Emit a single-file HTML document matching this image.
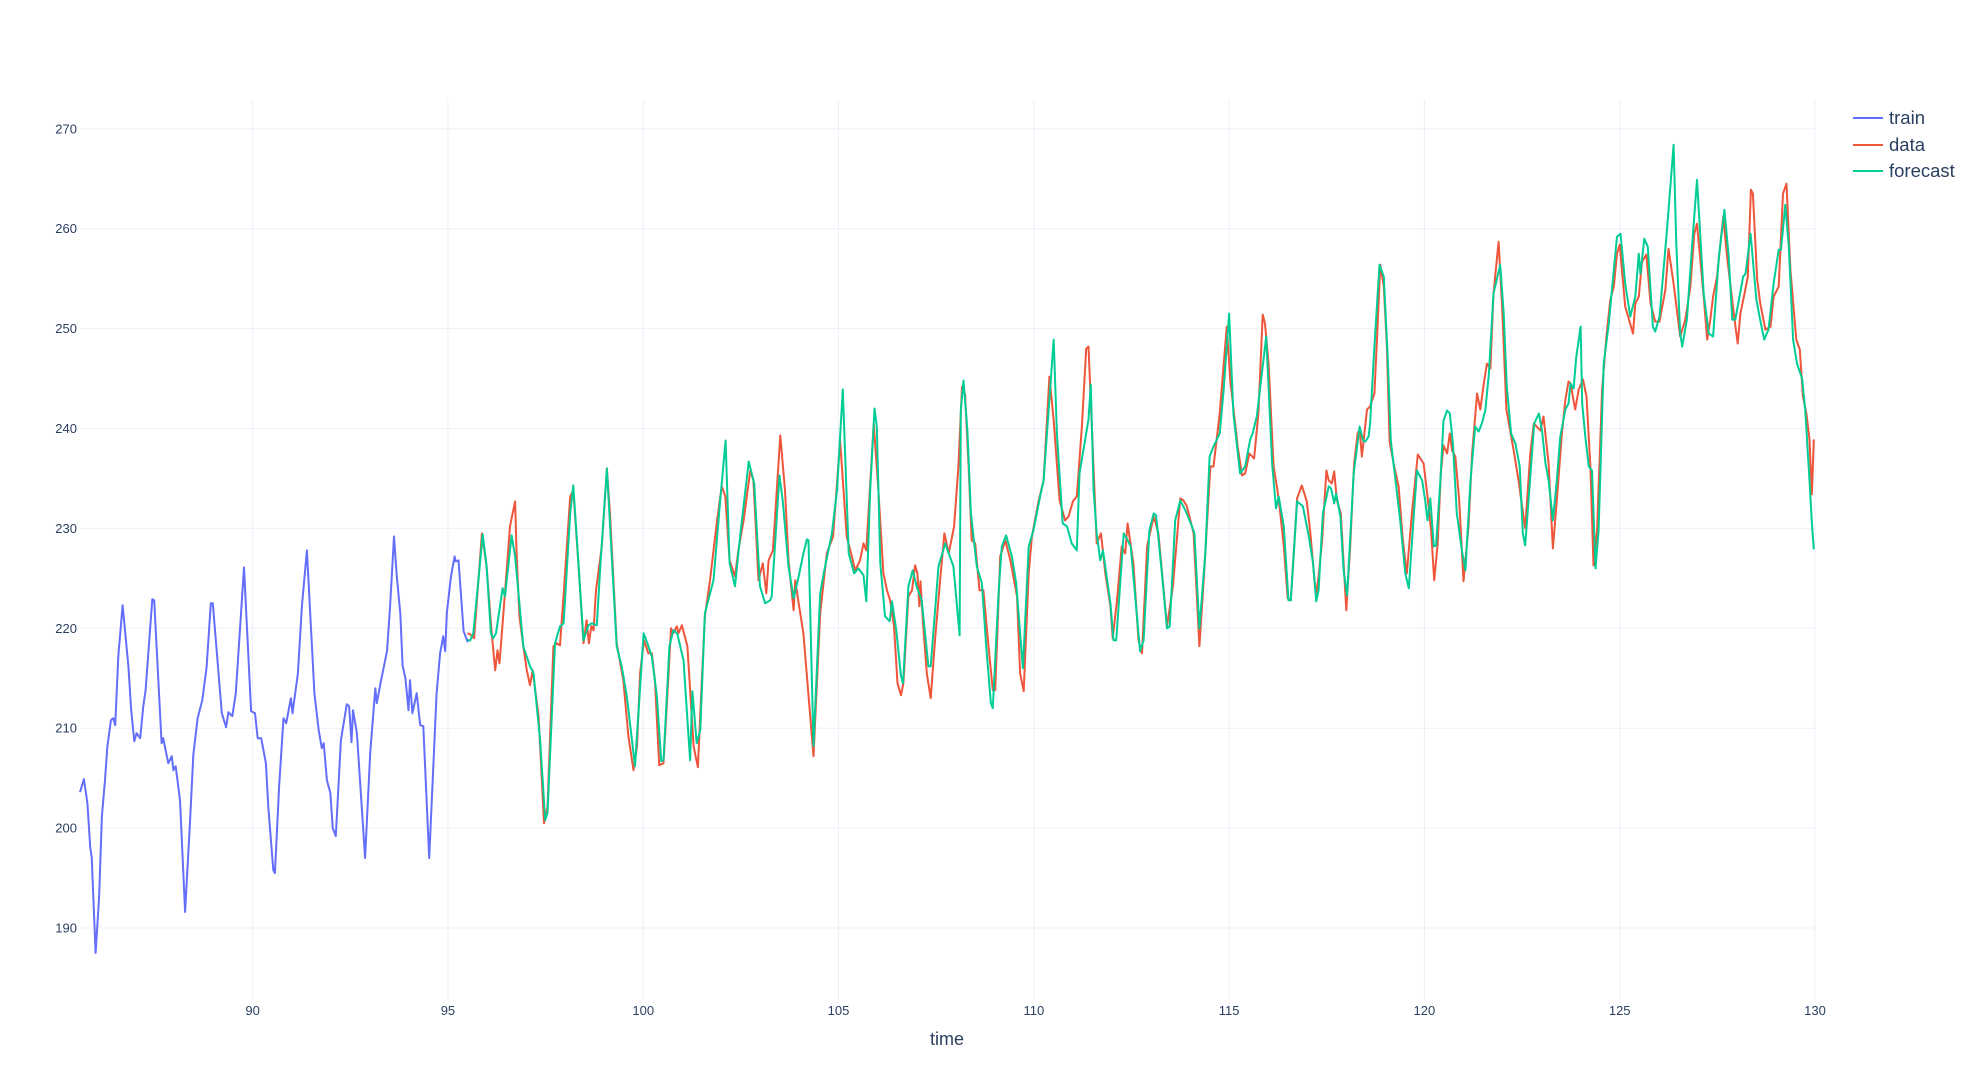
<!DOCTYPE html>
<html><head><meta charset="utf-8"><style>
html,body{margin:0;padding:0;background:#fff;}
svg{display:block;font-family:"Liberation Sans",sans-serif;}
</style></head><body>
<svg id="chart" width="1980" height="1080" viewBox="0 0 1980 1080" xmlns="http://www.w3.org/2000/svg">
<rect x="0" y="0" width="1980" height="1080" fill="#fff"/>
<g id="grid"></g>
<g id="xticks"></g>
<g id="yticks"></g>
<g id="series"></g>
<text x="947" y="1045" font-size="18" fill="#2a3f5f" text-anchor="middle">time</text>
<g>
<g><line x1="1853" y1="118" x2="1883" y2="118" stroke="#636efa" stroke-width="2"/><text x="1889" y="124" font-size="18.5" fill="#2a3f5f">train</text></g>
<g><line x1="1853" y1="145" x2="1883" y2="145" stroke="#EF553B" stroke-width="2"/><text x="1889" y="151" font-size="18.5" fill="#2a3f5f">data</text></g>
<g><line x1="1853" y1="171" x2="1883" y2="171" stroke="#00cc96" stroke-width="2"/><text x="1889" y="177" font-size="18.5" fill="#2a3f5f">forecast</text></g>
</g>
</svg>
<script>
const xTicks = [90,95,100,105,110,115,120,125,130];
const yTicks = [190,200,210,220,230,240,250,260,270];
const trainT = [85.58,85.68,85.77,85.84,85.88,85.98,86.07,86.14,86.22,86.28,86.37,86.43,86.48,86.56,86.67,86.82,86.89,86.97,87.03,87.12,87.2,87.26,87.43,87.48,87.67,87.71,87.84,87.93,87.97,88.03,88.14,88.27,88.4,88.48,88.59,88.71,88.82,88.93,88.98,89.21,89.32,89.38,89.48,89.57,89.78,89.96,90.06,90.13,90.22,90.34,90.4,90.53,90.57,90.68,90.79,90.86,90.98,91.02,91.16,91.26,91.39,91.58,91.69,91.77,91.82,91.9,91.99,92.05,92.13,92.26,92.41,92.47,92.53,92.57,92.67,92.88,93.01,93.14,93.18,93.29,93.44,93.52,93.62,93.69,93.78,93.84,93.91,93.99,94.03,94.09,94.2,94.29,94.37,94.52,94.71,94.8,94.88,94.93,94.97,95.08,95.17,95.2,95.27,95.4,95.51];
const trainV = [203.6,204.9,202.5,198.1,197.1,187.5,193.1,201.2,204.8,208.1,210.8,211,210.3,217.2,222.3,216.2,211.8,208.7,209.5,209,212.2,213.8,222.9,222.8,208.5,209,206.5,207.2,205.8,206.2,202.8,191.6,200.8,207.3,211,212.8,216.1,222.5,222.5,211.5,210.1,211.6,211.2,213.5,226.1,211.7,211.5,209,209,206.5,202.1,195.8,195.5,204.3,211,210.5,213,211.5,215.5,222.2,227.8,213.5,209.8,208,208.5,204.8,203.5,200,199.2,208.8,212.4,212.2,208.6,211.8,209.5,197,207.5,214,212.5,214.8,217.7,222.2,229.2,225.2,221.5,216.3,215,211.8,214.8,211.5,213.5,210.3,210.2,197,213.5,217.5,219.2,217.7,221.5,225.3,227.2,226.7,226.8,219.7,218.6];
const dataT = [95.5,95.57,95.67,95.87,95.99,96.12,96.21,96.27,96.32,96.42,96.59,96.72,96.76,96.83,96.93,97.02,97.1,97.17,97.32,97.46,97.55,97.7,97.79,97.87,97.97,98.13,98.21,98.34,98.47,98.55,98.61,98.67,98.73,98.79,98.94,99.07,99.15,99.32,99.49,99.62,99.75,99.84,99.92,100.02,100.13,100.22,100.3,100.41,100.52,100.65,100.71,100.77,100.86,100.9,100.99,101.13,101.29,101.4,101.5,101.58,101.71,101.88,102.01,102.1,102.21,102.35,102.44,102.57,102.74,102.82,102.95,103.06,103.15,103.21,103.32,103.51,103.63,103.72,103.85,103.89,103.98,104.1,104.36,104.53,104.7,104.86,105.04,105.21,105.34,105.43,105.55,105.64,105.71,105.9,106.02,
106.15,106.24,106.32,106.42,106.51,106.6,106.66,106.79,106.88,106.96,107.02,107.07,107.1,107.16,107.26,107.36,107.47,107.6,107.71,107.82,107.96,108.07,108.16,108.24,108.33,108.41,108.5,108.61,108.71,108.84,108.95,109.01,109.14,109.27,109.4,109.57,109.65,109.74,109.87,109.95,110.12,110.25,110.4,110.51,110.66,110.8,110.89,111,111.1,111.23,111.34,111.4,111.49,111.61,111.72,111.83,111.96,112.02,112.13,112.25,112.34,112.4,112.55,112.68,112.77,112.9,113.07,113.19,113.41,113.56,113.75,113.83,113.92,114.09,114.24,114.35,114.52,114.6,114.76,114.94,115.03,115.22,115.33,115.41,115.52,115.64,115.75,115.86,115.92,116.01,116.14,116.24,116.31,116.4,116.5,116.58,116.74,116.86,116.99,117.08,117.2,
117.23,117.29,117.38,117.49,117.55,117.63,117.69,117.76,117.86,118,118.1,118.2,118.29,118.34,118.4,118.53,118.61,118.72,118.79,118.87,118.96,119.04,119.11,119.21,119.34,119.45,119.55,119.68,119.83,119.98,120.08,120.17,120.25,120.34,120.42,120.49,120.58,120.65,120.71,120.79,120.89,121,121.13,121.22,121.35,121.43,121.52,121.6,121.69,121.77,121.9,121.99,122.1,122.24,122.3,122.41,122.58,122.71,122.8,122.97,123.05,123.18,123.29,123.39,123.52,123.61,123.69,
123.74,123.86,123.95,124.06,124.15,124.25,124.33,124.42,124.55,124.66,124.76,124.85,124.93,125,125.14,125.23,125.34,125.4,125.49,125.57,125.68,125.79,125.91,126.02,126.17,126.25,126.38,126.55,126.68,126.81,126.91,126.98,127.15,127.24,127.32,127.39,127.49,127.65,127.75,127.92,128.02,128.09,128.18,128.28,128.36,128.41,128.52,128.6,128.73,128.86,128.94,129.07,129.18,129.27,129.37,129.52,129.61,129.69,129.78,129.86,129.92,129.97];
const dataV = [219.5,219.4,219,229.5,226.2,219.5,215.8,217.8,216.5,221.5,230.2,232.7,227.2,221.2,218.2,215.8,214.3,215.8,211.2,200.5,202.1,218.2,218.5,218.3,223.8,233.2,233.8,226.5,218.5,220.8,218.5,220.2,219.8,223.8,228.2,236,231.5,218.5,214.8,209.2,205.8,208.2,215.5,218.8,217.5,217.5,214.8,206.3,206.5,215.5,220,219.5,220.2,219.5,220.3,218.2,208.2,206.1,214.8,221.2,224.8,230.5,234.2,233.2,226.8,225.2,227.9,230.8,235.8,234.8,224.8,226.5,223.5,226.8,227.8,239.3,233.8,226.8,221.8,224.8,222.5,219.5,207.2,221.5,227.5,229.2,238.8,229.2,227.2,225.8,226.8,228.5,227.8,240.5,233.8,
225.5,223.8,222.8,220.2,214.5,213.3,214.5,223.2,223.8,226.3,225.5,222.2,224.7,220.7,215.5,213,218.8,224.8,229.5,227.5,230.2,236.2,244.2,243.4,236.2,228.8,228.5,223.8,223.8,218.2,213.8,213.8,227.2,228.8,226.8,223.2,215.5,213.7,225.5,229.2,232.7,234.8,245.2,240.8,232.8,230.8,231.2,232.7,233.2,240.2,248,248.2,239.8,228.5,229.5,225.5,222.2,219,222.8,228.2,227.5,230.5,226.5,218.8,217.5,228.2,231.2,229.5,220.2,224.2,233,232.8,232.2,229.5,218.2,224.8,236.2,236.2,241.5,250.2,244.8,238.2,235.3,235.5,237.5,237,241.5,251.4,250.5,246.5,236.2,233.8,231.5,228.2,223,222.8,233,234.3,232.7,229.5,224.2,
223.5,225.2,228.8,235.8,234.8,234.5,235.7,232.8,231.5,221.8,228.2,236.5,239.5,239.9,237.2,241.9,242.2,243.5,249.2,256.4,254.2,248.2,238.7,236.5,234.2,228.8,225.5,231.5,237.4,236.5,233.2,229.8,224.8,228.5,235.5,238.3,237.5,239.5,237.8,237.2,232.8,224.7,230.2,237.5,243.5,241.9,244.5,246.5,246,253.5,258.7,252.2,241.9,238.8,237.5,234.8,230,237.5,240.5,239.8,241.2,236.5,228,232.8,239.5,242.9,244.7,
244.5,241.9,243.9,244.9,243.2,236.2,226.3,229.8,243.9,249.2,252.9,254.2,257.5,258.4,252.2,251,249.5,252.5,253.2,256.7,257.4,252.5,250.7,250.7,253.9,258,254.5,249.2,250.9,254.2,259.5,260.5,253.2,248.9,250.9,253.2,255.2,261.2,257.2,251.5,248.5,251.5,253.2,255.2,263.9,263.5,254.9,252.5,249.9,250.2,253.2,254.2,263.5,264.5,255.9,248.9,247.9,243.2,241.5,238.9,233.4,238.9];
const fcT = [95.5,95.57,95.65,95.78,95.89,95.99,96.1,96.16,96.23,96.4,96.46,96.63,96.72,96.93,97.1,97.19,97.36,97.49,97.55,97.74,97.87,97.96,98.13,98.21,98.47,98.6,98.68,98.81,98.9,99.07,99.32,99.45,99.58,99.79,100.01,100.09,100.22,100.35,100.46,100.52,100.67,100.77,100.87,101.03,101.2,101.26,101.37,101.46,101.58,101.8,101.97,102.11,102.21,102.35,102.48,102.7,102.84,102.99,103.12,103.25,103.29,103.49,103.57,103.72,103.85,103.98,104.1,104.19,104.23,104.36,104.53,104.62,104.83,104.96,105.11,105.26,105.4,105.51,105.64,105.71,105.81,105.92,105.98,
106.07,106.19,106.31,106.37,106.48,106.6,106.65,106.79,106.9,107,107.13,107.3,107.36,107.56,107.73,107.94,108.1,108.13,108.2,108.3,108.39,108.54,108.67,108.78,108.9,108.95,109.1,109.18,109.29,109.44,109.55,109.72,109.87,109.99,110.16,110.25,110.51,110.59,110.74,110.85,110.97,111.1,111.17,111.4,111.46,111.53,111.61,111.7,111.77,111.96,112.04,112.11,112.3,112.38,112.48,112.72,112.81,112.96,113.07,113.13,113.28,113.41,113.48,113.62,113.75,113.88,114.05,114.11,114.24,114.39,114.5,114.6,114.76,114.86,115,115.11,115.28,115.41,115.54,115.6,115.71,115.95,116.1,116.2,116.27,116.4,116.52,116.58,116.74,116.89,117.04,117.15,
117.23,117.29,117.4,117.55,117.61,117.69,117.74,117.85,117.93,118.02,118.19,118.34,118.43,118.49,118.57,118.61,118.72,118.85,118.96,119.06,119.14,119.26,119.38,119.51,119.6,119.73,119.81,119.94,120.02,120.08,120.15,120.24,120.3,120.41,120.49,120.58,120.65,120.73,120.83,120.96,121.05,121.18,121.3,121.39,121.47,121.56,121.65,121.77,121.94,122.03,122.11,122.22,122.33,122.44,122.52,122.58,122.71,122.81,122.93,123.01,123.1,123.18,123.29,123.39,123.48,123.61,123.69,
123.74,123.82,123.89,124,124.04,124.12,124.21,124.29,124.38,124.46,124.59,124.72,124.8,124.93,125.02,125.14,125.27,125.4,125.49,125.53,125.63,125.72,125.85,125.91,126.02,126.21,126.38,126.45,126.55,126.6,126.72,126.85,126.98,127.15,127.28,127.39,127.54,127.68,127.79,127.88,127.96,128.16,128.22,128.35,128.43,128.5,128.58,128.7,128.81,128.94,129.07,129.13,129.24,129.33,129.44,129.54,129.67,129.75,129.86,129.92,129.97];
const fcV = [218.8,218.8,219.5,224.8,229.4,226.2,219.5,219,219.5,224,223.2,229.3,227.2,218.2,216.2,215.5,208.8,200.8,201.5,218.5,220.2,220.5,231.5,234.3,218.8,220.3,220.5,220.3,226.2,236,218.2,216.2,213.2,206.2,219.5,218.7,217.2,213.2,206.7,206.8,218.2,219.8,219.5,216.8,206.8,213.7,208.5,209.8,221.5,224.8,232.8,238.8,226.5,224.2,229.2,236.7,234.5,224.2,222.5,222.8,223.2,235.3,232.8,226.2,223,225.2,227.5,228.9,228.8,208.2,223.5,225.5,229.5,233.8,243.9,227.5,225.5,226,225.3,222.7,233.8,242,240.2,
226.5,221.2,220.7,222.7,219.8,215.2,214.5,224.2,225.8,224.2,222.8,216.2,216.2,226.2,228.5,226.2,219.3,241.8,244.8,239.8,231.5,226.2,224.5,218.2,212.5,212,223.8,228.2,229.3,227.2,224.5,216,228.2,229.8,233.2,234.8,248.9,239.5,230.5,230.2,228.5,227.8,235.5,240.9,244.4,233.8,229.5,226.8,227.8,222.5,218.8,218.8,229.5,229,228.2,217.7,218.8,229.8,231.5,231.3,225.5,220,220.2,230.8,232.8,231.8,230.2,229.5,220,227.5,237.2,238.2,239.5,243.8,251.5,241.5,235.5,236.2,238.9,239.5,241.2,249.2,236.5,232,233.2,230.2,222.8,222.8,232.7,232.2,229.2,226.5,
222.7,223.8,231.5,234.2,234,232.5,233.5,231.2,225.8,223.3,235.5,240.2,238.8,238.7,239.2,240.5,248.2,256.4,255.2,247.2,238.8,234.8,230.8,225.5,224,231.5,235.8,234.8,232.8,230.8,233,228.2,228.3,234.8,240.8,241.8,241.5,238.5,231.5,227.8,225.8,234.8,240.2,239.7,240.5,241.8,245.5,253.5,256.4,251.5,244.2,239.5,238.5,236.2,229.5,228.3,235.2,240.5,241.5,239.8,236.5,234.8,230.8,234.8,239.2,241.9,242.5,
244.5,244,247.2,250.2,242.5,239.2,236.2,235.8,226,229.8,246.5,250.5,253.9,259.2,259.5,254.5,251.2,253.2,257.5,255.5,259,258.2,250.2,249.7,251.2,259.9,268.4,258.5,249.5,248.2,250.9,258.2,264.9,253.5,249.5,249.2,257.2,261.9,257.2,250.9,250.9,255.2,255.5,259.5,255.9,252.9,251.2,248.9,249.9,254.5,257.9,257.9,262.4,258.2,248.9,246.5,245,241.9,234.8,230.5,227.9];

const X0 = 80, X1 = 1815, T0 = 85.58, T1 = 130;
const Y0 = 100, Y1 = 1000;
function xs(t){ return X0 + (t - T0) * (X1 - X0) / (T1 - T0); }
function ys(v){ return 528.4 - (v - 230) * 9.99; }
const NS = "http://www.w3.org/2000/svg";
const grid = document.getElementById('grid');
const xt = document.getElementById('xticks');
const yt = document.getElementById('yticks');
xTicks.forEach(t => {
  const l = document.createElementNS(NS, 'line');
  
  
  l.setAttribute('x1', xs(t)); l.setAttribute('x2', xs(t));
  l.setAttribute('y1', Y0); l.setAttribute('y2', Y1);
  l.setAttribute('stroke', '#ebf0f8'); l.setAttribute('stroke-width', '1');
  grid.appendChild(l);
  const tx = document.createElementNS(NS, 'text');
  
  
  tx.setAttribute('x', xs(t)); tx.setAttribute('y', 1015);
  tx.setAttribute('text-anchor', 'middle'); tx.setAttribute('font-size', '13');
  tx.setAttribute('fill', '#2a3f5f');
  tx.textContent = t;
  xt.appendChild(tx);
});
yTicks.forEach(v => {
  const l = document.createElementNS(NS, 'line');
  
  
  l.setAttribute('x1', X0); l.setAttribute('x2', X1);
  l.setAttribute('y1', ys(v)); l.setAttribute('y2', ys(v));
  l.setAttribute('stroke', '#ebf0f8'); l.setAttribute('stroke-width', '1');
  grid.appendChild(l);
  const tx = document.createElementNS(NS, 'text');
  
  
  tx.setAttribute('x', 77); tx.setAttribute('y', ys(v) + 4.5);
  tx.setAttribute('text-anchor', 'end'); tx.setAttribute('font-size', '13');
  tx.setAttribute('fill', '#2a3f5f');
  tx.textContent = v;
  yt.appendChild(tx);
});
const series = document.getElementById('series');
function drawLine(T, V, color, name){
  let d = '';
  for (let i = 0; i < T.length && i < V.length; i++){
    d += (i ? 'L' : 'M') + xs(T[i]).toFixed(1) + ',' + ys(V[i]).toFixed(1);
  }
  const p = document.createElementNS(NS, 'path');
  
  
  p.setAttribute('d', d);
  p.setAttribute('fill', 'none');
  p.setAttribute('stroke', color);
  p.setAttribute('stroke-width', '2');
  p.setAttribute('stroke-linejoin', 'round');
  series.appendChild(p);
}
drawLine(trainT, trainV, '#636efa', 'train-line');
drawLine(dataT, dataV, '#EF553B', 'data-line');
drawLine(fcT, fcV, '#00cc96', 'forecast-line');
</script>
</body></html>
